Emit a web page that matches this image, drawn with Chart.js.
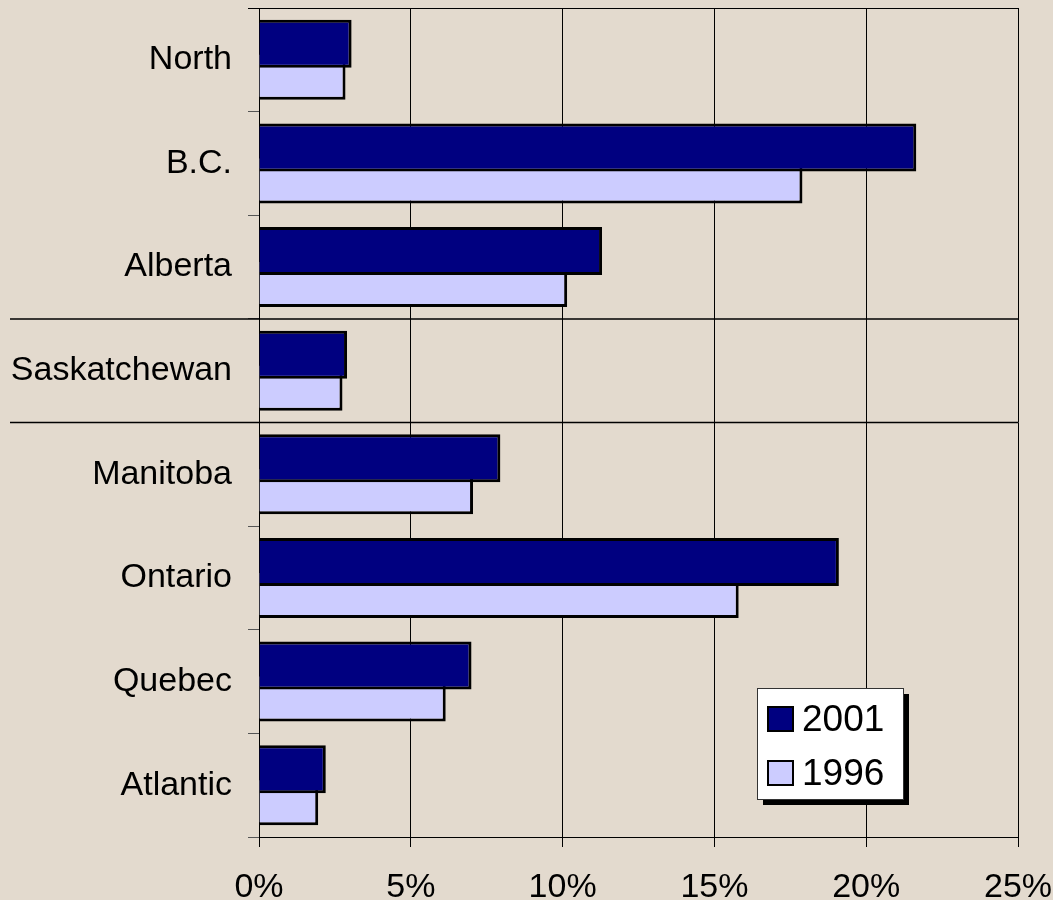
<!DOCTYPE html>
<html>
<head>
<meta charset="utf-8">
<script src="https://cdn.jsdelivr.net/npm/chart.js@4.4.0/dist/chart.umd.min.js"></script>
<style>
  html, body { margin: 0; padding: 0; background: #e3dace; }
  #wrap { width: 1053px; height: 900px; position: relative; }
</style>
</head>
<body>
<div id="wrap"><canvas id="regionChart"></canvas></div>
<script>
// regions, top to bottom as shown
const regions = ['North', 'B.C.', 'Alberta', 'Saskatchewan', 'Manitoba', 'Ontario', 'Quebec', 'Atlantic'];

// share (%) per region
const share2001 = [3.05, 21.65, 11.3, 2.9, 7.95, 19.1, 7.0, 2.2];
const share1996 = [2.85, 17.9, 10.15, 2.75, 7.05, 15.8, 6.15, 1.95];

const seriesLabels = ['2001', '1996'];
const seriesColors = ['#000080', '#ccccff'];

const FONT = '"Liberation Sans", Arial, sans-serif';

// horizontal rules that box in Saskatchewan, plus the top frame line
const separatorPlugin = {
    id: 'separators',
    afterDatasetsDraw(chart) {
        const { ctx, chartArea } = chart;
        const y = chart.scales.y;
        const edge = (a, b) => (y.getPixelForValue(a) + y.getPixelForValue(b)) / 2;
        ctx.save();
        ctx.strokeStyle = '#000';
        ctx.lineWidth = 1.5;
        [edge(2, 3), edge(3, 4)].forEach(py => {
            ctx.beginPath();
            ctx.moveTo(10, py);
            ctx.lineTo(chartArea.right, py);
            ctx.stroke();
        });
        ctx.lineWidth = 1;
        ctx.beginPath();
        ctx.moveTo(chartArea.left - 11, chartArea.top + 0.5);
        ctx.lineTo(chartArea.right, chartArea.top + 0.5);
        ctx.stroke();
        ctx.restore();
    }
};

// boxed legend with drop shadow inside the plot
const boxLegendPlugin = {
    id: 'boxLegend',
    afterDraw(chart) {
        const { ctx, chartArea } = chart;
        const w = 146, h = 111;
        const x = chartArea.right - 261, yTop = chartArea.bottom - 149;
        ctx.save();
        ctx.fillStyle = '#000';
        ctx.fillRect(x + 6, yTop + 6, w, h);
        ctx.fillStyle = '#fff';
        ctx.fillRect(x, yTop, w, h);
        ctx.strokeStyle = '#333';
        ctx.lineWidth = 1;
        ctx.strokeRect(x + 0.5, yTop + 0.5, w, h);
        ctx.font = '37px ' + FONT;
        ctx.textBaseline = 'middle';
        chart.data.datasets.forEach((ds, i) => {
            const cy = yTop + 31 + i * 54;
            ctx.fillStyle = ds.backgroundColor;
            ctx.fillRect(x + 11, cy - 12, 25, 24);
            ctx.strokeStyle = '#000';
            ctx.lineWidth = 2;
            ctx.strokeRect(x + 11, cy - 12, 25, 24);
            ctx.fillStyle = '#000';
            ctx.fillText(ds.label, x + 45, cy + 2);
        });
        ctx.restore();
    }
};

const config = {
    type: 'bar',
    data: {
        labels: regions,
        datasets: [
            { label: seriesLabels[0], data: share2001, backgroundColor: seriesColors[0] },
            { label: seriesLabels[1], data: share1996, backgroundColor: seriesColors[1] }
        ]
    },
    options: {
        indexAxis: 'y',
        responsive: true,
        maintainAspectRatio: false,
        animation: false,
        layout: { padding: { top: 8, right: 35, left: 0, bottom: 0 } },
        datasets: {
            bar: {
                borderColor: '#000',
                borderWidth: 3,
                barPercentage: 1.5,
                categoryPercentage: 0.618
            }
        },
        plugins: {
            legend: { display: false },
            tooltip: { enabled: false }
        },
        scales: {
            x: {
                min: 0,
                max: 25,
                ticks: {
                    stepSize: 5,
                    color: '#000',
                    padding: 20,
                    font: { family: FONT, size: 34 },
                    callback: v => v + '%'
                },
                grid: { color: '#000', lineWidth: 1, tickLength: 10, tickColor: '#000' },
                border: { color: '#000', width: 1 },
                afterFit(scale) {
                    scale.height = 63;
                    scale.paddingLeft = 0;
                    scale.paddingRight = 0;
                }
            },
            y: {
                offset: true,
                ticks: {
                    color: '#000',
                    padding: 16,
                    font: { family: FONT, size: 34 }
                },
                grid: {
                    offset: true,
                    drawOnChartArea: false,
                    tickLength: 11,
                    tickColor: '#555'
                },
                border: { color: '#000', width: 1 },
                afterFit(scale) {
                    scale.width = 259;
                    scale.paddingTop = 0;
                    scale.paddingBottom = 0;
                }
            }
        }
    },
    plugins: [separatorPlugin, boxLegendPlugin]
};

const chart = new Chart(document.getElementById('regionChart'), config);
</script>
</body>
</html>
